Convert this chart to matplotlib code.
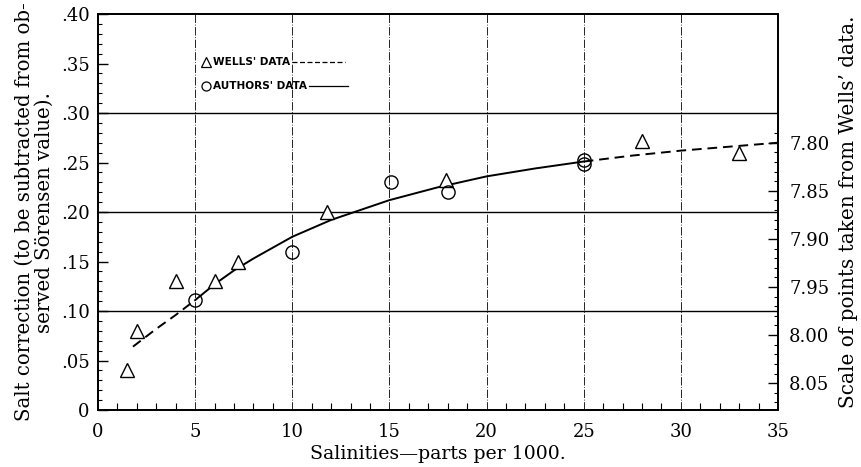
import matplotlib
matplotlib.use("Agg")
import matplotlib.pyplot as plt
import numpy as np
from matplotlib.ticker import MultipleLocator, FuncFormatter, FixedLocator
from matplotlib.lines import Line2D

# Data
wells_x = [1.5, 2.0, 4.0, 6.0, 7.2, 11.8, 17.9, 28.0, 33.0]
wells_y = [0.04, 0.08, 0.13, 0.13, 0.15, 0.20, 0.232, 0.272, 0.26]
authors_x = [5.0, 10.0, 15.1, 18.0, 25.0, 25.0]
authors_y = [0.111, 0.16, 0.23, 0.22, 0.253, 0.249]

curve_lo_x = [1.8, 3.0, 4.0, 5.0]
curve_lo_y = [0.064, 0.082, 0.096, 0.111]
curve_mid_x = [5.0, 6.0, 7.0, 8.0, 10.0, 12.0, 13.35, 15.0, 17.5, 20.0, 22.5, 25.0]
curve_mid_y = [0.111, 0.127, 0.141, 0.153, 0.175, 0.192, 0.201, 0.212, 0.225, 0.236, 0.244, 0.251]
curve_hi_x = [25.0, 27.5, 30.0, 32.5, 35.0]
curve_hi_y = [0.251, 0.257, 0.262, 0.266, 0.270]

x_ticks = [0, 5, 10, 15, 20, 25, 30, 35]
y_ticks = [0, 0.05, 0.10, 0.15, 0.20, 0.25, 0.30, 0.35, 0.40]
y_tick_labels = ["0", ".05", ".10", ".15", ".20", ".25", ".30", ".35", ".40"]
right_ticks = [7.80, 7.85, 7.90, 7.95, 8.00, 8.05]
right_tick_labels = ["7.80", "7.85", "7.90", "7.95", "8.00", "8.05"]
legend_labels = ["WELLS' DATA", "AUTHORS' DATA"]

plt.rcParams['font.family'] = ['DejaVu Serif']

fig = plt.figure(figsize=(8.61, 4.67), dpi=100)
ax = fig.add_axes([0.1138, 0.122, 0.7898, 0.848])

ax.set_xlim(0, 35)
ax.set_ylim(0, 0.40)

# grid
for yv in [0.1, 0.2, 0.3]:
    ax.axhline(yv, color='black', lw=1.0, zorder=1)
for xv in [5, 10, 15, 20, 25, 30]:
    ax.axvline(xv, color='black', lw=0.6, ls=(0, (10, 2, 1, 2)), zorder=1)

# curves
ax.plot(curve_lo_x, curve_lo_y, color='black', lw=1.4, ls=(0, (5, 3)), zorder=3)
ax.plot(curve_mid_x, curve_mid_y, color='black', lw=1.4, ls='-', zorder=3)
ax.plot(curve_hi_x, curve_hi_y, color='black', lw=1.4, ls=(0, (5, 3)), zorder=3)

# points
ax.plot(wells_x, wells_y, ls='none', marker='^', ms=10.5, mfc='white', mec='black', mew=1.0, zorder=4)
ax.plot(authors_x, authors_y, ls='none', marker='o', ms=9.5, mfc='none', mec='black', mew=1.0, zorder=4)

# ticks
ax.xaxis.set_major_locator(FixedLocator(x_ticks))
ax.xaxis.set_minor_locator(MultipleLocator(1))
ax.yaxis.set_major_locator(FixedLocator(y_ticks))
ax.yaxis.set_major_formatter(FuncFormatter(lambda v, p: y_tick_labels[int(round(v / 0.05))] if 0 <= int(round(v / 0.05)) < len(y_tick_labels) else ""))
ax.yaxis.set_minor_locator(MultipleLocator(0.01))
ax.tick_params(axis='both', which='both', direction='in', labelsize=13, colors='black')
ax.tick_params(axis='x', which='major', length=0, pad=9)
ax.tick_params(axis='x', which='minor', length=5, width=0.8)
ax.tick_params(axis='y', which='major', length=7, width=1.0, pad=6)
ax.tick_params(axis='y', which='minor', length=3, width=0.8)
ax.tick_params(axis='y', right=False)

for s in ax.spines.values():
    s.set_linewidth(1.3)

ax.set_xlabel("Salinities\u2014parts per 1000.", fontsize=13.6, labelpad=3)
ax.set_ylabel("Salt correction (to be subtracted from ob-\nserved S\u00f6rensen value).", fontsize=14.2, labelpad=5, linespacing=1.05)

# right axis
ax2 = ax.twinx()
ax2.set_ylim(8.078, 7.666)
ax2.yaxis.set_major_locator(FixedLocator(right_ticks))
ax2.yaxis.set_major_formatter(FuncFormatter(lambda v, p: right_tick_labels[right_ticks.index(round(v, 2))] if round(v, 2) in right_ticks else ""))
ax2.yaxis.set_minor_locator(FixedLocator(list(np.round(np.arange(7.79, 8.075, 0.01), 2))))
ax2.tick_params(axis='y', which='both', direction='in', labelsize=13)
ax2.tick_params(axis='y', which='major', length=7, width=1.0, pad=8)
ax2.tick_params(axis='y', which='minor', length=3, width=0.8)
ax2.set_ylabel("Scale of points taken from Wells\u2019 data.", fontsize=14.4, labelpad=7)
for s in ax2.spines.values():
    s.set_linewidth(1.3)

# manual legend (marker, text, line sample)
renderer = fig.canvas.get_renderer()
leg_x = 0.152
leg_rows = [0.879, 0.818]
leg_styles = [(0, (4, 2)), '-']
leg_markers = ['^', 'o']
leg_len = [0.078, 0.058]
inv = ax.transAxes.inverted()
for lab, yy, ls, mk, ln in zip(legend_labels, leg_rows, leg_styles, leg_markers, leg_len):
    ax.add_line(Line2D([leg_x + 0.0075], [yy], transform=ax.transAxes, marker=mk, ms=7 if mk == '^' else 6.5,
                       mfc='none', mec='black', mew=0.9, ls='none'))
    t = ax.text(leg_x + 0.017, yy, lab, transform=ax.transAxes, fontsize=7.6, family='DejaVu Sans',
                fontweight='semibold', va='center', ha='left')
    bb = t.get_window_extent(renderer=renderer)
    x_end = inv.transform((bb.x1, bb.y0))[0]
    ax.add_line(Line2D([x_end + 0.003, x_end + 0.003 + ln], [yy, yy], transform=ax.transAxes,
                       color='black', lw=0.9, ls=ls))

fig.savefig("out.png", dpi=100)
